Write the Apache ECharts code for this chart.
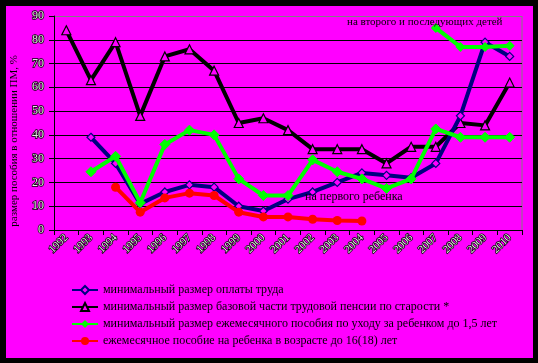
<!DOCTYPE html>
<html><head><meta charset="utf-8">
<script src="https://cdn.jsdelivr.net/npm/echarts@6/dist/echarts.min.js"></script>
<style>html,body{margin:0;padding:0;background:#000;}#c{width:538px;height:363px;}</style>
</head><body><div id="c"></div>
<script>
const years = ['1992','1993','1994','1995','1996','1997','1998','1999','2000','2001','2002','2003','2004','2005','2006','2007','2008','2009','2010'];
const minWage = [null,39,28,11,16,19,18,10,8,13,16,20,24,23,22,28,48,79,73];
const pension = [84,63,79,48,73,76,67,45,47,42,34,34,34,28,35,35,45,44,62];
const careFirst = [null,24.5,31,11.5,36,42,40,21.5,14.5,14.5,29.5,24.5,21.5,17.5,21.5,42.5,39,39,39];
const careSecond = [null,null,null,null,null,null,null,null,null,null,null,null,null,null,null,85,77,77,77.5];
const childBenefit = [null,null,18,7.5,13.5,15.5,14.5,7.5,5.5,5.5,4.5,4,3.8,null,null,null,null,null,null];
const yTicks = [0,10,20,30,40,50,60,70,80,90];
const names = ['минимальный размер оплаты труда','минимальный размер базовой части трудовой пенсии по старости *','минимальный размер ежемесячного пособия по уходу за ребенком до 1,5 лет','ежемесячное пособие на ребенка в возрасте до 16(18) лет'];

const serif = '"Liberation Serif","DejaVu Serif",serif';
const txt = {fontFamily: serif, color:'#000', textShadowColor:'#fff', textShadowOffsetX:1, textShadowOffsetY:1, textShadowBlur:0};
const axTxt = {fontFamily: serif, color:'#e6e6e6', textBorderColor:'#000', textBorderWidth:1.5};

const chart = echarts.init(document.getElementById('c'));
const gridColors = yTicks.map((v,i)=> i===yTicks.length-1 ? '#808080' : '#000');
chart.setOption({
  backgroundColor:'#000',
  animation:false,
  graphic:[
    {type:'rect', z:-10, shape:{x:6,y:6,width:527,height:352}, style:{fill:'#ff00ff'}},
    {type:'line', z:-5, shape:{x1:522,y1:16,x2:522,y2:230}, style:{stroke:'#808080',lineWidth:1}},
    {type:'text', left:9, top:55, rotation:Math.PI/2, style:Object.assign({text:'размер пособия в отношении ПМ, %', fontSize:11}, txt), originX:0, originY:0},
    {type:'text', x:305, y:191, z:100, style:Object.assign({text:'на первого ребенка', fontSize:12}, txt)},
    {type:'text', x:347, y:17, z:100, style:Object.assign({text:'на второго и последующих детей', fontSize:11}, txt)}
  ],
  grid:{left:54, right:16, top:16, bottom:133, containLabel:false},
  legend:{
    orient:'vertical', left:66, top:279, itemGap:5, itemWidth:26, itemHeight:10,
    data:names,
    textStyle:Object.assign({fontSize:12}, txt)
  },
  xAxis:{
    type:'category', data:years, boundaryGap:true,
    axisLine:{lineStyle:{color:'#000',width:1}},
    axisTick:{show:true, interval:0, lineStyle:{color:'#000'}, length:5},
    axisLabel:Object.assign({interval:0, rotate:45, fontSize:11, margin:6}, axTxt)
  },
  yAxis:{
    type:'value', min:0, max:90, interval:10,
    axisLine:{show:true, lineStyle:{color:'#000'}},
    axisTick:{show:true, lineStyle:{color:'#000'}, length:5},
    axisLabel:Object.assign({fontSize:12, margin:10}, axTxt),
    splitLine:{show:true, lineStyle:{color:gridColors, width:1}}
  },
  series:[
    {name:names[0], type:'line', data:minWage, symbol:'diamond', symbolSize:8,
      lineStyle:{color:'#000080', width:4}, itemStyle:{color:'#ff00ff', borderColor:'#000080', borderWidth:1.2}, z:3},
    {name:names[1], type:'line', data:pension, symbol:'triangle', symbolSize:9,
      lineStyle:{color:'#000', width:4}, itemStyle:{color:'#ff00ff', borderColor:'#000', borderWidth:1.2}, z:2},
    {name:names[2], type:'line', data:careFirst, symbol:'diamond', symbolSize:10,
      lineStyle:{color:'#00ff00', width:4}, itemStyle:{color:'#00ff00', borderColor:'#00ff00'}, z:4},
    {name:'second', type:'line', data:careSecond, symbol:'diamond', symbolSize:10,
      lineStyle:{color:'#00ff00', width:4}, itemStyle:{color:'#00ff00'}, z:4},
    {name:names[3], type:'line', data:childBenefit, symbol:'circle', symbolSize:9,
      lineStyle:{color:'#ff0000', width:4}, itemStyle:{color:'#ff0000'}, z:5}
  ]
});
</script></body></html>
